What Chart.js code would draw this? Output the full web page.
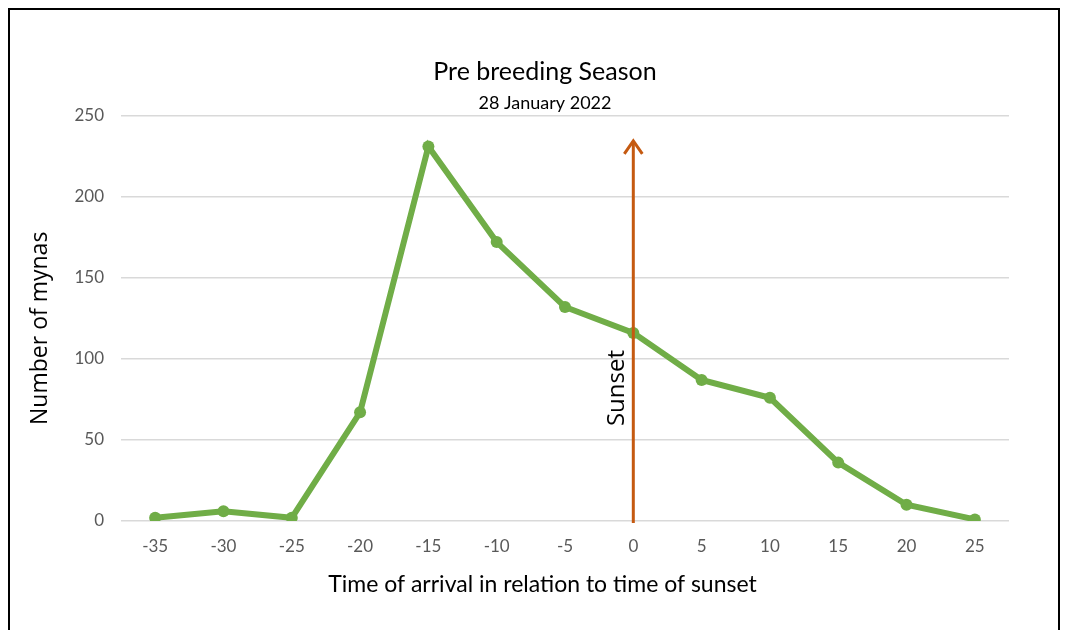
<!DOCTYPE html>
<html>
<head>
<meta charset="utf-8">
<script src="https://cdn.jsdelivr.net/npm/chart.js@4"></script>
<style>
  html, body { margin: 0; padding: 0; background: #fff; }
  #wrap { position: relative; width: 1067px; height: 630px; overflow: hidden; }
  #frame { position: absolute; left: 8px; top: 8px; width: 1052px; height: 660px;
           border: 2px solid #000; box-sizing: border-box; pointer-events: none; }
  canvas { position: absolute; left: 0; top: 0; }
</style>
</head>
<body>
<div id="wrap">
  <canvas id="chart" width="1067" height="630"></canvas>
  <div id="frame"></div>
</div>
<script>
// Minutes relative to sunset, and birds counted arriving at each time
const arrivalMinutes = ['-35', '-30', '-25', '-20', '-15', '-10', '-5', '0', '5', '10', '15', '20', '25'];
const mynaCounts = [2, 6, 2, 67, 231, 172, 132, 116, 87, 76, 36, 10, 1];

// Count axis
const countMin = 0;
const countMax = 250;
const countStep = 50;

// Axis captions
const xCaption = 'Time of arrival in relation to time of sunset';
const yCaption = 'Number of mynas';

// Sunset marker: drawn at minute 0, rising from 0 to the arrow tip value
const sunsetMinute = '0';
const sunsetArrowTop = 235;
const sunsetLabelAt = 82;
const sunsetLabel = 'Sunset';

const calibriLike = 'Lato, "Open Sans", sans-serif';
const segoeLike = '"Open Sans", "Noto Sans", sans-serif';

// Axis captions sit centred on the whole chart block rather than on the plot
const axisCaptions = {
  id: 'axisCaptions',
  afterDraw(chart) {
    const { ctx, chartArea } = chart;
    ctx.save();
    ctx.fillStyle = '#000';
    ctx.textAlign = 'center';
    ctx.textBaseline = 'middle';
    ctx.font = '23px ' + calibriLike;
    ctx.fillText(xCaption, chart.width / 2 + 9, chartArea.bottom + 64);
    ctx.translate(40, (chartArea.top + chartArea.bottom) / 2 + 10);
    ctx.rotate(-Math.PI / 2);
    ctx.font = '23px ' + segoeLike;
    ctx.fillText(yCaption, 0, 0);
    ctx.restore();
  }
};

const sunsetArrow = {
  id: 'sunsetArrow',
  afterDatasetsDraw(chart) {
    const { ctx, scales: { x, y } } = chart;
    const px = x.getPixelForValue(arrivalMinutes.indexOf(sunsetMinute));
    const yBase = y.getPixelForValue(0) + 2;
    const yTip = y.getPixelForValue(sunsetArrowTop);
    ctx.save();
    ctx.strokeStyle = '#C55A11';
    ctx.lineWidth = 3;
    ctx.lineCap = 'butt';
    ctx.beginPath();
    ctx.moveTo(px, yBase);
    ctx.lineTo(px, yTip + 1);
    ctx.stroke();
    ctx.lineJoin = 'miter';
    ctx.beginPath();
    ctx.moveTo(px - 9, yTip + 14);
    ctx.lineTo(px, yTip + 1);
    ctx.lineTo(px + 9, yTip + 14);
    ctx.stroke();

    ctx.translate(px - 16, y.getPixelForValue(sunsetLabelAt));
    ctx.rotate(-Math.PI / 2);
    ctx.fillStyle = '#000';
    ctx.font = '24px ' + segoeLike;
    ctx.textAlign = 'center';
    ctx.textBaseline = 'middle';
    ctx.fillText(sunsetLabel, 0, 0);
    ctx.restore();
  }
};

new Chart(document.getElementById('chart'), {
  type: 'line',
  data: {
    labels: arrivalMinutes,
    datasets: [{
      data: mynaCounts,
      borderColor: '#70AD47',
      backgroundColor: '#70AD47',
      borderWidth: 6,
      pointRadius: 6,
      pointBorderWidth: 0,
      tension: 0,
      fill: false,
      yAxisID: 'y'
    }]
  },
  options: {
    responsive: false,
    devicePixelRatio: 1,
    animation: false,
    layout: { padding: { left: 23, right: 0, top: 0, bottom: 0 } },
    plugins: {
      legend: { display: false },
      tooltip: { enabled: false },
      title: {
        display: true,
        text: 'Pre breeding Season',
        color: '#000',
        font: { family: calibriLike, size: 25, weight: 'normal' },
        padding: { top: 57, bottom: 0 }
      },
      subtitle: {
        display: true,
        text: '28 January 2022',
        color: '#000',
        font: { family: calibriLike, size: 18, weight: 'normal' },
        padding: { top: 5, bottom: 2 }
      }
    },
    scales: {
      x: {
        type: 'category',
        offset: true,
        grid: { display: false, drawTicks: false },
        border: { display: false },
        ticks: { color: '#595959', font: { family: calibriLike, size: 17 }, padding: 15 },
        afterFit(scale) { scale.height = 109; }
      },
      y: {
        position: 'left',
        min: countMin,
        max: countMax,
        ticks: { stepSize: countStep, color: '#595959', font: { family: calibriLike, size: 17 }, padding: 17 },
        grid: { color: '#d9d9d9', lineWidth: 1.5, drawTicks: false },
        border: { display: false },
        afterFit(scale) { scale.width = 98; }
      },
      // empty right-hand margin beside the plot
      yRight: {
        position: 'right',
        min: countMin,
        max: countMax,
        ticks: { display: false },
        grid: { display: false, drawTicks: false },
        border: { display: false },
        afterFit(scale) { scale.width = 58; }
      }
    }
  },
  plugins: [sunsetArrow, axisCaptions]
});
</script>
</body>
</html>
